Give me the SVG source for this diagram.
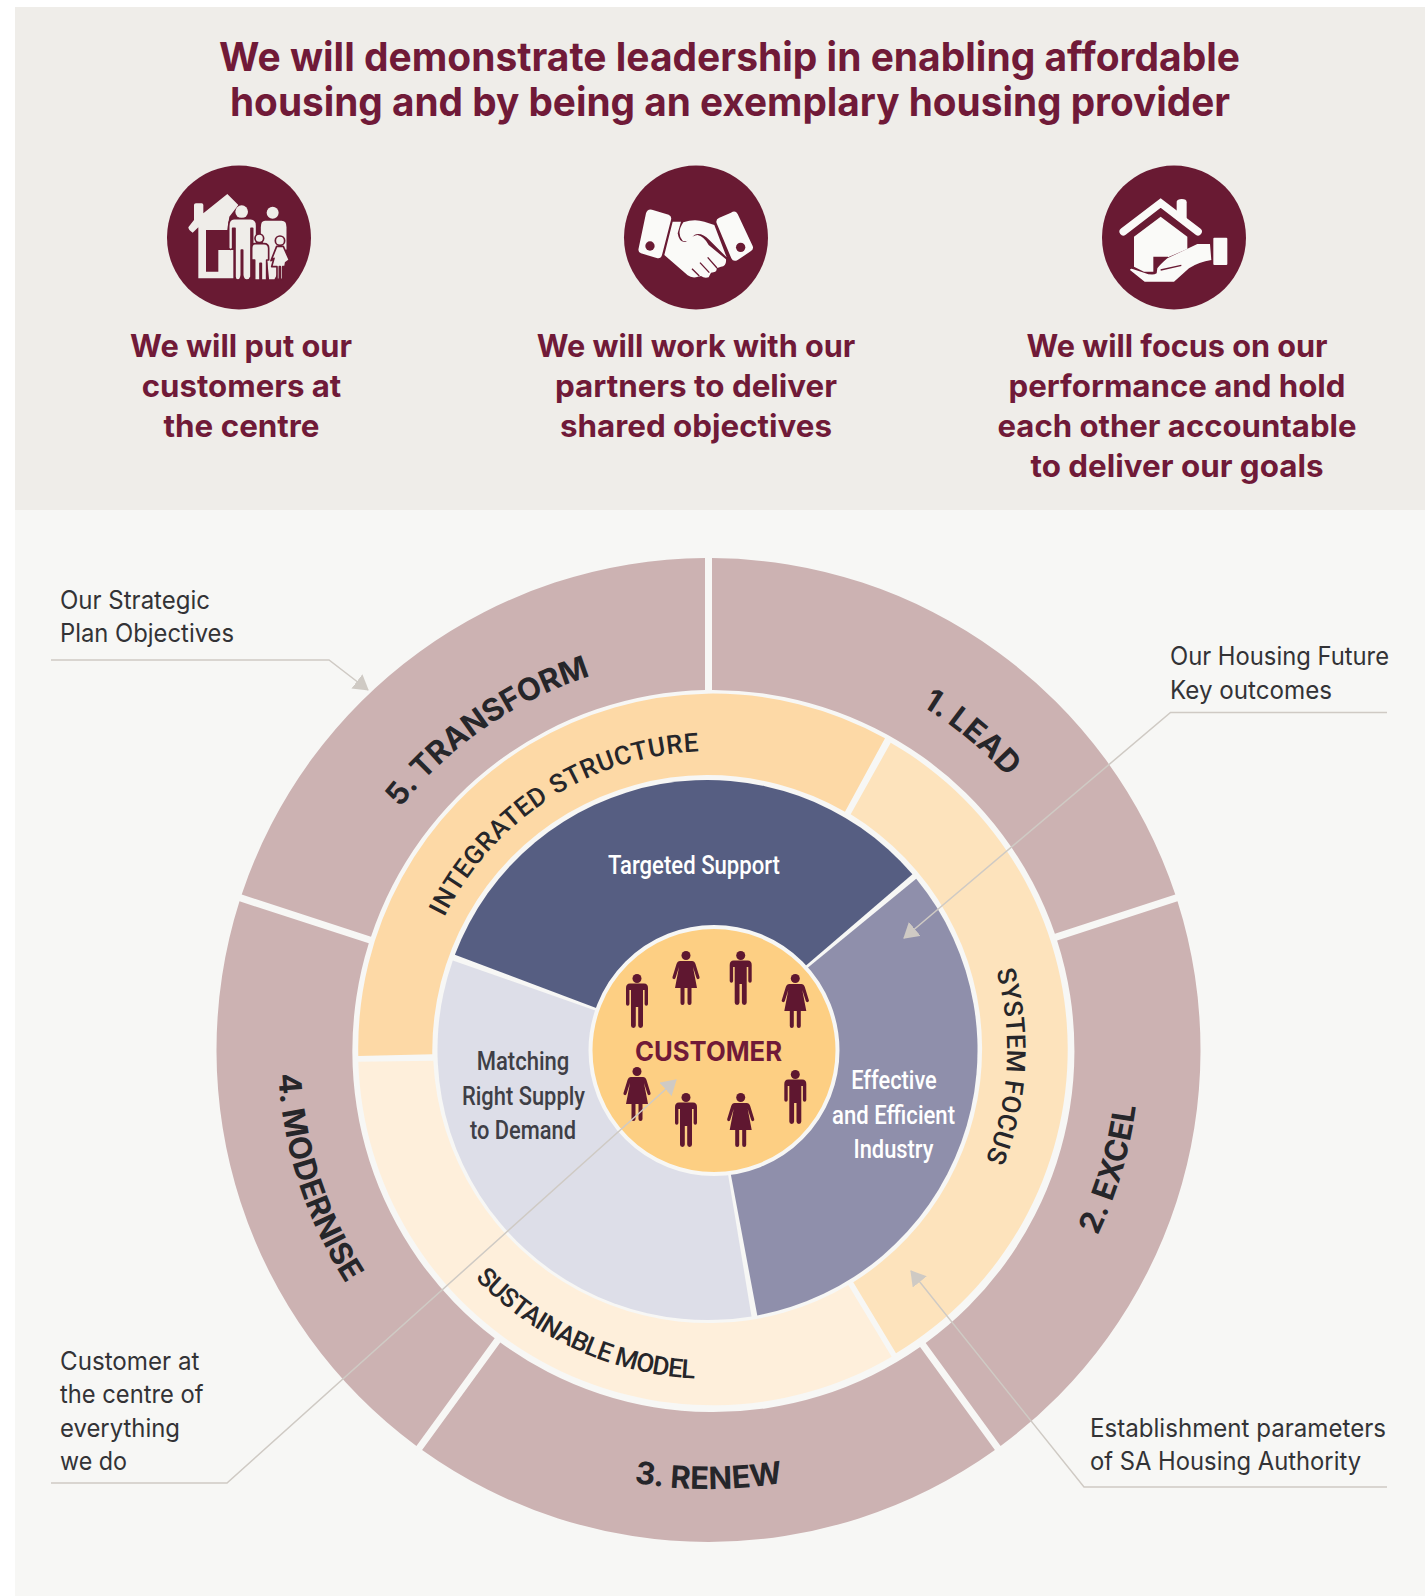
<svg xmlns="http://www.w3.org/2000/svg" xmlns:xlink="http://www.w3.org/1999/xlink" width="1425" height="1596" viewBox="0 0 1425 1596">
<style>
text{font-family:"Inter","Liberation Sans",sans-serif}
.title{font-size:40px;font-weight:700;fill:#701A38;text-anchor:middle}
.sub{font-size:31px;font-weight:700;fill:#701A38;text-anchor:middle}
.call{font-size:25px;font-weight:400;fill:#333336}
.pie{font-family:"Roboto","Liberation Sans",sans-serif;font-size:26px;font-weight:500;text-anchor:middle}
.ring{font-size:31px;font-weight:700;fill:#26262A;text-anchor:middle}
.mid{font-family:"Roboto","Liberation Sans",sans-serif;font-size:26px;font-weight:500;fill:#26262A;text-anchor:middle}
.outer{fill:#CCB2B2}
.conn{fill:none;stroke:#CFCAC4;stroke-width:1.5}
.mar{fill:#691A33}
.ic1{fill:#EFEDE9}
.ic2{fill:#FAFAF8}
.ico{stroke:#691A33;stroke-width:5;stroke-linejoin:round}
</style>
<defs>
<marker id="arrow" viewBox="0 0 15 18" refX="14" refY="9" markerWidth="15" markerHeight="18" markerUnits="userSpaceOnUse" orient="auto"><path d="M0 0L15 9L0 18Z" fill="#CFCAC4"/></marker>
<g id="man"><circle cx="0" cy="4.5" r="4.5"/><path d="M-7 9.5H7Q11 9.5 11 14V30a1.7 1.7 0 0 1-3.4 0V16H6V51.5a2.4 2.4 0 0 1-4.8 0V33H-1.2V51.5a2.4 2.4 0 0 1-4.8 0V16H-7.6V30a1.7 1.7 0 0 1-3.4 0V14Q-11 9.5-7 9.5Z"/></g>
<g id="woman"><circle cx="0" cy="4.5" r="4.5"/><path d="M-6 10H6Q8.5 10 9.5 13L13.5 26a1.5 1.5 0 0 1-3 1L7 16L11 37H5.5V52a2 2 0 0 1-4 0V37H-1.5V52a2 2 0 0 1-4 0V37H-11L-7 16L-10.5 27a1.5 1.5 0 0 1-3-1L-9.5 13Q-8.5 10-6 10Z"/></g>
<path id="a1" d="M-350.7 -202.5A405 405 0 0 1 350.7 -202.5"/>
<path id="a2" d="M-373.3 215.5A431 431 0 0 0 373.3 215.5"/>
<path id="a3" d="M-380.2 219.5A439 439 0 0 0 380.2 219.5"/>
<path id="a4" d="M-373.2 215.5A431 431 0 0 0 373.2 215.5"/>
<path id="a5" d="M-339.5 -196A392 392 0 0 1 339.5 -196"/>
<path id="m1" d="M-258.9 -149.5A299 299 0 0 1 258.9 -149.5"/>
<path id="m2" d="M-255.5 -147.5A295 295 0 0 1 255.5 -147.5"/>
<path id="m3" d="M-284.9 164.5A329 329 0 0 0 284.9 164.5"/>
</defs>
<g id="background">
<rect x="0" y="0" width="1425" height="1596" fill="#FFFFFF"/>
<rect x="15" y="7" width="1410" height="503" fill="#EFEDE9"/>
<rect x="15" y="510" width="1410" height="1086" fill="#F7F7F5"/>
</g>
<g id="headline">
<text class="title" x="729.5" y="70.5" textLength="1021" lengthAdjust="spacingAndGlyphs">We will demonstrate leadership in enabling affordable</text>
<text class="title" x="730" y="116" textLength="1000" lengthAdjust="spacingAndGlyphs">housing and by being an exemplary housing provider</text>
</g>
<g id="pillar-customers">
<circle class="mar" cx="239" cy="237.5" r="72"/>
<g transform="translate(170 170) scale(.3333)">
<path class="ic1" d="M72 105Q72 100 78 100H95Q100 100 100 105V130L172 72L205 105L178 140L172 180H108V305H145V240H190V325H85V172L68 188Q55 180 55 172L72 150Z"/>
<circle class="ic1" cx="215" cy="125" r="19"/>
<circle class="ic1" cx="308" cy="128" r="18"/>
<path class="ic1 ico" d="M285 150H335Q352 150 352 172V240L340 245V285L315 330H295L290 280L270 190V172Q270 150 285 150Z"/>
<path class="ic1 ico" d="M192 146H242Q260 146 260 168V235Q252 242 248 235V175H243V320Q240 330 230 330Q220 330 218 315V240H214V315Q212 330 204 330Q195 330 195 320V175H188V235Q182 242 176 235V168Q176 146 192 146Z"/>
<circle class="ic1 ico" cx="268" cy="205" r="13"/>
<path class="ic1 ico" d="M255 221H282Q296 221 296 235V270H290V330H274V280H270V330H254V270H245V235Q245 221 255 221Z"/>
<circle class="ic1 ico" cx="330" cy="212" r="14"/>
<path class="ic1 ico" d="M320 229H340L358 270L347 278L345 290H338V328H331V290H328V328H321V290H305L312 265L303 272Z"/>
</g>
<text class="sub" x="241" y="357" textLength="222" lengthAdjust="spacingAndGlyphs">We will put our</text>
<text class="sub" x="241.5" y="397" textLength="199.5" lengthAdjust="spacingAndGlyphs">customers at</text>
<text class="sub" x="241.5" y="437" textLength="156" lengthAdjust="spacingAndGlyphs">the centre</text>
</g>
<g id="pillar-partners">
<circle class="mar" cx="696" cy="237.5" r="72"/>
<g transform="translate(626 170) scale(.3333)">
<path class="ic2" d="M78 119L128 134Q138 138 135 150L108 255Q104 268 92 264L45 250Q35 246 38 235L60 130Q64 116 78 119Z"/>
<circle class="mar" cx="72" cy="228" r="14"/>
<path class="ic2" d="M315 128Q328 120 335 132L380 228Q384 238 374 244L335 270Q322 277 316 265L272 160Q268 148 280 143Z"/>
<circle class="mar" cx="344" cy="232" r="14"/>
<path class="ic2" d="M140 155H165L155 190Q160 220 180 215Q200 195 215 195Q235 200 248 225L300 268Q302 288 285 290L272 295Q274 308 255 308L248 322Q235 326 225 318L210 322Q195 324 185 316L115 255Z"/>
<path class="ic2" d="M172 157Q205 145 235 155L265 165L302 262L250 210Q225 185 205 195Q185 220 170 212Q150 190 172 157Z"/>
<path d="M198 296L220 318M222 278L250 308M245 262L273 294" fill="none" stroke="#691A33" stroke-width="4"/>
</g>
<text class="sub" x="696" y="357" textLength="318.6" lengthAdjust="spacingAndGlyphs">We will work with our</text>
<text class="sub" x="696" y="397" textLength="282" lengthAdjust="spacingAndGlyphs">partners to deliver</text>
<text class="sub" x="696" y="437" textLength="272" lengthAdjust="spacingAndGlyphs">shared objectives</text>
</g>
<g id="pillar-performance">
<circle class="mar" cx="1174" cy="237.5" r="72"/>
<g transform="translate(1104 170) scale(.3333)">
<path class="ic2" d="M218 95Q220 87 233 87Q248 87 248 97V150H218Z"/>
<path d="M58 185L170 99L282 185" fill="none" stroke="#FAFAF8" stroke-width="23" stroke-linecap="round" stroke-linejoin="miter"/>
<path class="ic2" d="M90 200L170 140L250 200V237L192 262V260H148V305H120L90 290Z"/>
<path class="ic2" d="M78 300Q80 294 88 298L120 308Q145 318 158 310L160 295Q170 282 190 265L280 222H318L322 270Q285 275 255 295L210 335H122Z"/>
<path d="M170 300L232 286" fill="none" stroke="#691A33" stroke-width="4"/>
<rect class="ic2" x="328" y="203" width="42" height="82" rx="3"/>
</g>
<text class="sub" x="1177" y="357" textLength="301" lengthAdjust="spacingAndGlyphs">We will focus on our</text>
<text class="sub" x="1177" y="397" textLength="337" lengthAdjust="spacingAndGlyphs">performance and hold</text>
<text class="sub" x="1177" y="437" textLength="359" lengthAdjust="spacingAndGlyphs">each other accountable</text>
<text class="sub" x="1177" y="477" textLength="293" lengthAdjust="spacingAndGlyphs">to deliver our goals</text>
</g>
<g id="objective-1-lead">
<path class="outer" d="M712 558A492 492 0 0 1 1175.3 894.6L1054.9 933.8A361 361 0 0 0 712 690Z"/>
<g transform="translate(708.5 1050) rotate(39.7)"><text class="ring"><textPath href="#a1" startOffset="50%">1. LEAD</textPath></text></g>
</g>
<g id="objective-2-excel">
<path class="outer" d="M1177.5 901.3A492 492 0 0 1 1000.6 1445.9L925.7 1342.9A361 361 0 0 0 1057.1 940.4Z"/>
<g transform="translate(708.5 1050) rotate(-73.5)"><text class="ring" font-size="30"><textPath href="#a2" startOffset="50%">2. EXCEL</textPath></text></g>
</g>
<g id="objective-3-renew">
<path class="outer" d="M994.9 1450A492 492 0 0 1 422.1 1450L500.3 1342.5A361 361 0 0 0 920.1 1347.1Z"/>
<g transform="translate(708.5 1050)"><text class="ring"><textPath href="#a3" startOffset="50%">3. RENEW</textPath></text></g>
</g>
<g id="objective-4-modernise">
<path class="outer" d="M416.4 1445.9A492 492 0 0 1 239.5 901.3L368.8 943.3A361 361 0 0 0 494.7 1338.3Z"/>
<g transform="translate(708.5 1050) rotate(72)"><text class="ring"><textPath href="#a4" startOffset="50%">4. MODERNISE</textPath></text></g>
</g>
<g id="objective-5-transform">
<path class="outer" d="M241.7 894.6A492 492 0 0 1 705 558V690A361 361 0 0 0 371 936.7Z"/>
<g transform="translate(708.5 1050) rotate(-34.7)"><text class="ring"><textPath href="#a5" startOffset="50%">5. TRANSFORM</textPath></text></g>
</g>
<g id="outcome-integrated-structure">
<path fill="#FDD9A6" d="M358.3 1056A354.5 354.5 0 0 1 885 738.3L845 811.7A275.5 275.5 0 0 0 432.3 1054.3Z"/>
<g transform="translate(712 1050) rotate(-33)"><text class="mid" letter-spacing=".7"><textPath href="#m1" startOffset="50%">INTEGRATED STRUCTURE</textPath></text></g>
</g>
<g id="outcome-system-focus">
<path fill="#FDE3BC" d="M890.7 742.7A354.5 354.5 0 0 1 896 1353.3L853.3 1282.3A275.5 275.5 0 0 0 850.7 814.3Z"/>
<g transform="translate(712 1050) rotate(93.2)"><text class="mid" letter-spacing=".4"><textPath href="#m2" startOffset="50%">SYSTEM FOCUS</textPath></text></g>
</g>
<g id="outcome-sustainable-model">
<path fill="#FEEFDB" d="M891.7 1356.7A354.5 354.5 0 0 1 358.3 1061.7L433.3 1060.7A275.5 275.5 0 0 0 848.3 1285Z"/>
<g transform="translate(712 1050) rotate(24.6)"><text class="mid" letter-spacing="-.9"><textPath href="#m3" startOffset="50%">SUSTAINABLE MODEL</textPath></text></g>
</g>
<g id="pie-targeted-support">
<path fill="#565E82" d="M454.9 954.7A270 270 0 0 1 912.4 874.2L707.5 1050Z"/>
<text class="pie" x="694" y="874" fill="#FFFFFF" textLength="172" lengthAdjust="spacingAndGlyphs">Targeted Support</text>
</g>
<g id="pie-effective-industry">
<path fill="#8F8FAB" d="M916.2 878.7A270 270 0 0 1 757.3 1315.4L707.5 1050Z"/>
<text class="pie" x="894" y="1089" fill="#FFFFFF" textLength="85.5" lengthAdjust="spacingAndGlyphs">Effective</text>
<text class="pie" x="893.5" y="1124" fill="#FFFFFF" textLength="123" lengthAdjust="spacingAndGlyphs">and Efficient</text>
<text class="pie" x="893.5" y="1158" fill="#FFFFFF" textLength="80" lengthAdjust="spacingAndGlyphs">Industry</text>
</g>
<g id="pie-matching-supply">
<path fill="#DDDEE8" d="M751.5 1316.4A270 270 0 0 1 452.8 960.4L707.5 1050Z"/>
<text class="pie" x="523" y="1070" fill="#3F3F46" textLength="92.6" lengthAdjust="spacingAndGlyphs">Matching</text>
<text class="pie" x="523.5" y="1104.5" fill="#3F3F46" textLength="123" lengthAdjust="spacingAndGlyphs">Right Supply</text>
<text class="pie" x="523" y="1139" fill="#3F3F46" textLength="106" lengthAdjust="spacingAndGlyphs">to Demand</text>
</g>
<g id="customer">
<circle cx="714" cy="1050.5" r="123.5" fill="#FDCF83" stroke="#F7F7F5" stroke-width="4"/>
<g fill="#5F1730">
<use href="#man" x="637" y="974"/>
<use href="#woman" x="686" y="951"/>
<use href="#man" x="740.7" y="951"/>
<use href="#woman" x="795.3" y="974"/>
<use href="#woman" x="637" y="1067"/>
<use href="#man" x="686" y="1093"/>
<use href="#woman" x="740.7" y="1093"/>
<use href="#man" x="795.3" y="1070"/>
</g>
<text x="708.5" y="1061" font-size="26.5" font-weight="700" fill="#701A38" text-anchor="middle" textLength="147" lengthAdjust="spacingAndGlyphs">CUSTOMER</text>
</g>
<g id="connectors">
<path class="conn" marker-end="url(#arrow)" d="M51 660H329L368 690"/>
<path class="conn" marker-end="url(#arrow)" d="M1387 712.5H1170.5L904 938"/>
<path class="conn" marker-end="url(#arrow)" d="M1387 1487H1084L911 1271"/>
<path class="conn" marker-end="url(#arrow)" d="M51 1483H227L676 1080"/>
</g>
<g id="callouts">
<text class="call" x="60" y="609" textLength="150" lengthAdjust="spacingAndGlyphs">Our Strategic</text>
<text class="call" x="60" y="642" textLength="174" lengthAdjust="spacingAndGlyphs">Plan Objectives</text>
<text class="call" x="1170" y="665" textLength="219" lengthAdjust="spacingAndGlyphs">Our Housing Future</text>
<text class="call" x="1170" y="699" textLength="162" lengthAdjust="spacingAndGlyphs">Key outcomes</text>
<text class="call" x="60" y="1370" textLength="139.5" lengthAdjust="spacingAndGlyphs">Customer at</text>
<text class="call" x="60" y="1403" textLength="143.5" lengthAdjust="spacingAndGlyphs">the centre of</text>
<text class="call" x="60" y="1437" textLength="120" lengthAdjust="spacingAndGlyphs">everything</text>
<text class="call" x="60" y="1470" textLength="67" lengthAdjust="spacingAndGlyphs">we do</text>
<text class="call" x="1090" y="1437" textLength="296" lengthAdjust="spacingAndGlyphs">Establishment parameters</text>
<text class="call" x="1090" y="1470" textLength="271" lengthAdjust="spacingAndGlyphs">of SA Housing Authority</text>
</g>
</svg>
